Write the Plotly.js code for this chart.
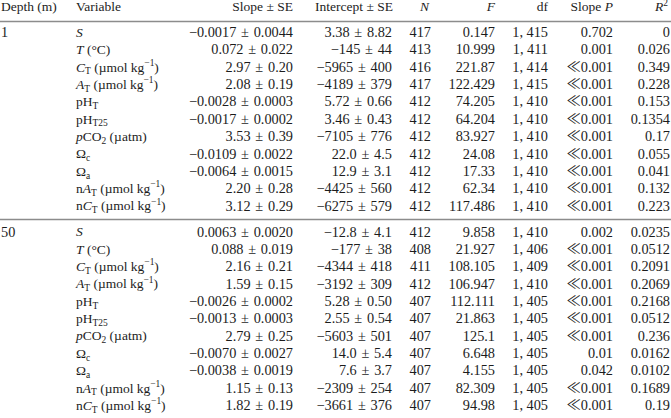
<!DOCTYPE html>
<html>
<head>
<meta charset="utf-8">
<script src="https://cdn.plot.ly/plotly-3.0.1.min.js"></script>
<style>html,body{margin:0;padding:0;background:#fff;}#chart{width:671px;height:418px;}</style>
</head>
<body>
<div id="chart"></div>
<script>
// ---- Data ----
const headers = ["Depth (m)", "Variable", "Slope ± SE", "Intercept ± SE", "<i>N</i>", "<i>F</i>", "df", "Slope <i>P</i>", "<i>R</i><sup>2</sup>"];
const depths = ["1", "50"];
const variables = [
  "<i>S</i>",
  "<i>T</i> (°C)",
  "<i>C</i><sub>T</sub> (µmol kg<sup>−1</sup>)",
  "<i>A</i><sub>T</sub> (µmol kg<sup>−1</sup>)",
  "pH<sub>T</sub>",
  "pH<sub>T25</sub>",
  "<i>p</i>CO<sub>2</sub> (µatm)",
  "Ω<sub>c</sub>",
  "Ω<sub>a</sub>",
  "n<i>A</i><sub>T</sub> (µmol kg<sup>−1</sup>)",
  "n<i>C</i><sub>T</sub> (µmol kg<sup>−1</sup>)"
];
// depth 1 m
const slope1 = ["−0.0017", "0.072", "2.97", "2.08", "−0.0028", "−0.0017", "3.53", "−0.0109", "−0.0064", "2.20", "3.12"];
const slopeSE1 = ["0.0044", "0.022", "0.20", "0.19", "0.0003", "0.0002", "0.39", "0.0022", "0.0015", "0.28", "0.29"];
const intercept1 = ["3.38", "−145", "−5965", "−4189", "5.72", "3.46", "−7105", "22.0", "12.9", "−4425", "−6275"];
const interceptSE1 = ["8.82", "44", "400", "379", "0.66", "0.43", "776", "4.5", "3.1", "560", "579"];
const N1 = ["417", "413", "416", "417", "412", "412", "412", "412", "412", "412", "412"];
const F1 = ["0.147", "10.999", "221.87", "122.429", "74.205", "64.204", "83.927", "24.08", "17.33", "62.34", "117.486"];
const df1 = ["1, 415", "1, 411", "1, 414", "1, 415", "1, 410", "1, 410", "1, 410", "1, 410", "1, 410", "1, 410", "1, 410"];
const P1 = ["0.702", "0.001", "≪0.001", "≪0.001", "≪0.001", "≪0.001", "≪0.001", "≪0.001", "≪0.001", "≪0.001", "≪0.001"];
const R2_1 = ["0", "0.026", "0.349", "0.228", "0.153", "0.1354", "0.17", "0.055", "0.041", "0.132", "0.223"];
// depth 50 m
const slope50 = ["0.0063", "0.088", "2.16", "1.59", "−0.0026", "−0.0013", "2.79", "−0.0070", "−0.0038", "1.15", "1.82"];
const slopeSE50 = ["0.0020", "0.019", "0.21", "0.15", "0.0002", "0.0003", "0.25", "0.0027", "0.0019", "0.13", "0.19"];
const intercept50 = ["−12.8", "−177", "−4344", "−3192", "5.28", "2.55", "−5603", "14.0", "7.6", "−2309", "−3661"];
const interceptSE50 = ["4.1", "38", "418", "309", "0.50", "0.54", "501", "5.4", "3.7", "254", "376"];
const N50 = ["412", "408", "411", "412", "407", "407", "407", "407", "407", "407", "407"];
const F50 = ["9.858", "21.927", "108.105", "106.947", "112.111", "21.863", "125.1", "6.648", "4.155", "82.309", "94.98"];
const df50 = ["1, 410", "1, 406", "1, 409", "1, 410", "1, 405", "1, 405", "1, 405", "1, 405", "1, 405", "1, 405", "1, 405"];
const P50 = ["0.002", "≪0.001", "≪0.001", "≪0.001", "≪0.001", "≪0.001", "≪0.001", "0.01", "0.042", "≪0.001", "≪0.001"];
const R2_50 = ["0.0235", "0.0512", "0.2091", "0.2069", "0.2168", "0.0512", "0.236", "0.0162", "0.0102", "0.1689", "0.19"];

// ---- Table geometry ----
const TEXTFONT = {family: "Liberation Serif, Noto Sans CJK JP, serif", size: 13.5, color: "#1c1c1c"};
const NUMFONT = {family: "Liberation Serif, Noto Sans CJK JP, serif", size: 14.3, color: "#1c1c1c"};
const PM = "\u00a0\u200a±\u200a\u00a0";
const headerY = 8;
const rowStart = 33.5, rowStep = 17.35, groupStep = 199.5;
const rule1 = 21.5, rule2 = 219.5;
// column anchors for body: [x, align]
const cols = [
  [1, "left"], [76, "left"], [293, "right"], [392, "right"], [431, "right"],
  [495, "right"], [548, "right"], [613, "right"], [670, "right"]
];
// header anchors
const hcols = [
  [1, "left"], [76, "left"], [293, "right"], [393, "right"], [429, "right"],
  [495, "right"], [548, "right"], [613, "right"], [668, "right"]
];

const groups = [
  {depth: depths[0], slope: slope1, se: slopeSE1, ic: intercept1, ise: interceptSE1, N: N1, F: F1, df: df1, P: P1, R2: R2_1},
  {depth: depths[1], slope: slope50, se: slopeSE50, ic: intercept50, ise: interceptSE50, N: N50, F: F50, df: df50, P: P50, R2: R2_50}
];

function colTexts(g) {
  return [
    null,
    variables,
    g.slope.map((s, i) => s + PM + g.se[i]),
    g.ic.map((s, i) => s + PM + g.ise[i]),
    g.N, g.F, g.df, g.P, g.R2
  ];
}

function textTrace(xs, ys, texts, align, font) {
  return {
    type: "scatter", mode: "text", x: xs, y: ys, text: texts,
    textposition: align === "left" ? "middle right" : "middle left",
    textfont: font, hoverinfo: "skip", showlegend: false, cliponaxis: false
  };
}

const traces = [];
hcols.forEach((c, j) => traces.push(textTrace([c[0]], [headerY], [headers[j]], c[1], TEXTFONT)));
groups.forEach((g, gi) => {
  const texts = colTexts(g);
  const ys = variables.map((_, i) => rowStart + gi * groupStep + i * rowStep);
  traces.push(textTrace([cols[0][0]], [ys[0]], [g.depth], "left", NUMFONT));
  for (let j = 1; j < cols.length; j++) {
    traces.push(textTrace(ys.map(() => cols[j][0]), ys, texts[j], cols[j][1], j === 1 ? TEXTFONT : NUMFONT));
  }
});

const layout = {
  width: 671, height: 418,
  margin: {l: 0, r: 0, t: 0, b: 0},
  paper_bgcolor: "#fff", plot_bgcolor: "#fff",
  xaxis: {range: [0, 671], visible: false, fixedrange: true},
  yaxis: {range: [418, 0], visible: false, fixedrange: true},
  shapes: [
    {type: "line", xref: "x", yref: "y", x0: 0, x1: 671, y0: rule1, y1: rule1, line: {color: "#8c8c8c", width: 1.3}},
    {type: "line", xref: "x", yref: "y", x0: 0, x1: 671, y0: rule2, y1: rule2, line: {color: "#8c8c8c", width: 1.3}}
  ],
  showlegend: false
};

Plotly.newPlot("chart", traces, layout, {displayModeBar: false, staticPlot: true});
</script>
</body>
</html>
